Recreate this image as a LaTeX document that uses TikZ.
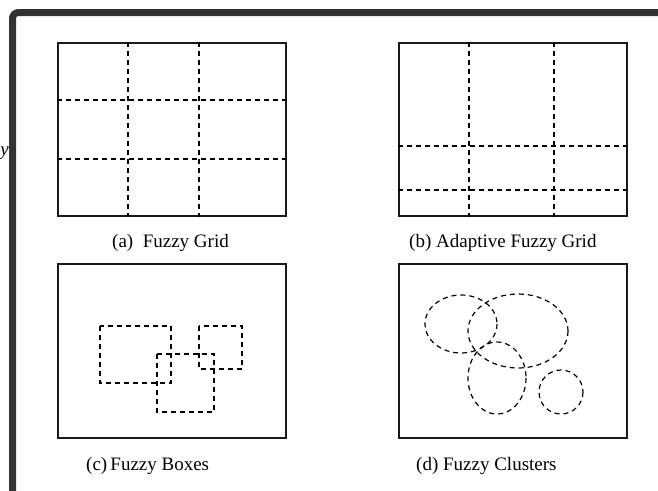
\documentclass[tikz,border=0pt]{standalone}
\usepackage{fontspec}
\setmainfont{Liberation Serif}
\begin{document}
\begin{tikzpicture}[x=1pt,y=-1pt,
  panel/.style={draw=black!90,line width=1.6pt},
  fz/.style={draw=black,line width=1.2pt,dash pattern=on 5pt off 4pt},
  captext/.style={anchor=base west,inner sep=0pt,font=\fontsize{19}{22}\selectfont},
  outerframe/.style={draw=black!80,line width=7pt,rounded corners=6pt}]
\useasboundingbox (0,0) rectangle (658,490);
% outer frame
\coordinate (fb) at (12.5,495);
\coordinate (fc) at (12.5,12.5);
\coordinate (fr) at (665,12.5);
\draw[outerframe] (fb) -- (fc) -- (fr);
\begin{scope}
\clip (0,0) rectangle (9,490);
\node[anchor=base east,inner sep=0pt,font=\fontsize{19}{22}\selectfont\itshape] (ylet) at (9,155) {y};
\end{scope}
% panel a
\node[panel,minimum width=228pt,minimum height=173pt,inner sep=0pt,anchor=north west] (pa) at (57,42) {};
\draw[fz] (pa.north west |- 0,100) -- (pa.north east |- 0,100);
\draw[fz] (pa.north west |- 0,159) -- (pa.north east |- 0,159);
\draw[fz] (pa.north west -| 128,0) -- (pa.south west -| 128,0);
\draw[fz] (pa.north west -| 199,0) -- (pa.south west -| 199,0);
\node[captext] (ca) at (112,247) {(a)\ \ Fuzzy Grid};
% panel b
\node[panel,minimum width=228pt,minimum height=173pt,inner sep=0pt,anchor=north west] (pb) at (398,42) {};
\draw[fz] (pb.north west |- 0,146) -- (pb.north east |- 0,146);
\draw[fz] (pb.north west |- 0,190) -- (pb.north east |- 0,190);
\draw[fz] (pb.north west -| 469,0) -- (pb.south west -| 469,0);
\draw[fz] (pb.north west -| 554,0) -- (pb.south west -| 554,0);
\node[captext] (cb) at (409,247) {(b) Adaptive Fuzzy Grid};
% panel c
\node[panel,minimum width=228pt,minimum height=174pt,inner sep=0pt,anchor=north west] (pc) at (57,263) {};
\draw[fz] (100,326) rectangle (171,383);
\draw[fz] (199,326) rectangle (242,369);
\draw[fz] (157,354) rectangle (214,412);
\node[captext] (cc) at (86,470) {(c)\,Fuzzy Boxes};
% panel d
\node[panel,minimum width=228pt,minimum height=174pt,inner sep=0pt,anchor=north west] (pd) at (398,263) {};
\draw[fz] (461,324) ellipse [x radius=36,y radius=29];
\draw[fz] (518,331) ellipse [x radius=50,y radius=37];
\draw[fz] (497,378) ellipse [x radius=29,y radius=36];
\draw[fz] (561,392) circle [radius=22];
\node[captext] (cd) at (416,470) {(d) Fuzzy Clusters};
\end{tikzpicture}
\end{document}
